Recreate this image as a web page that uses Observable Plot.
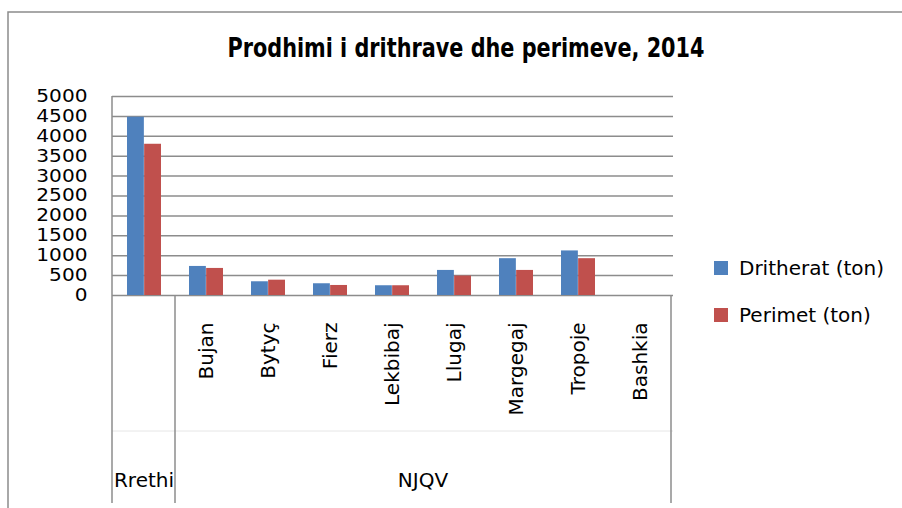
<!DOCTYPE html>
<html>
<head>
<meta charset="utf-8">
<script src="https://cdn.jsdelivr.net/npm/d3@7"></script>
<script src="https://cdn.jsdelivr.net/npm/@observablehq/plot@0.6"></script>
<style>
  html, body { margin: 0; padding: 0; background: #fff; }
  #chart { width: 902px; height: 508px; }
</style>
</head>
<body>
<div id="chart"></div>
<script>
// ---- data ----
const title = "Prodhimi i drithrave dhe perimeve, 2014";
const categories = ["Rrethi", "Bujan", "Bytyç", "Fierz", "Lekbibaj", "Llugaj", "Margegaj", "Tropoje", "Bashkia"];
const tickLabels = ["", "Bujan", "Bytyç", "Fierz", "Lekbibaj", "Llugaj", "Margegaj", "Tropoje", "Bashkia"];
const groups = ["Rrethi", "NJQV", "NJQV", "NJQV", "NJQV", "NJQV", "NJQV", "NJQV", "NJQV"];
const dritherat = [4480, 730, 345, 295, 245, 630, 925, 1120, 0];
const perimet = [3800, 680, 385, 252, 245, 490, 630, 925, 0];
const seriesNames = ["Dritherat (ton)", "Perimet (ton)"];
const seriesColors = ["#4F81BD", "#C0504D"];
const yTicks = [0, 500, 1000, 1500, 2000, 2500, 3000, 3500, 4000, 4500, 5000];

// ---- layout ----
const W = 902, H = 508;
const mL = 112, mR = 229, mT = 96, mB = 213;
const padIn = 0.45, padOut = 0.225;
const plotW = W - mL - mR;
const step = plotW / (categories.length - padIn + 2 * padOut);
const half = step * (1 - padIn) / 2;
const gridColor = "#8c8c8c";
const font = "'DejaVu Sans', 'Open Sans', sans-serif";

const table = categories.map((c, i) => ({category: c, dritherat: dritherat[i], perimet: perimet[i], group: groups[i]}));

const plot = Plot.plot({
  width: W, height: H,
  marginLeft: mL, marginRight: mR, marginTop: mT, marginBottom: mB,
  style: {fontFamily: font, fontSize: "20px", color: "#000", background: "#fff", overflow: "visible"},
  x: {type: "band", domain: categories, paddingInner: padIn, paddingOuter: padOut, label: null},
  y: {domain: [0, 5000], label: null},
  marks: [
    Plot.ruleY(yTicks, {stroke: gridColor, strokeWidth: 1.5}),
    Plot.barY(table, {x: "category", y: "dritherat", fill: seriesColors[0], insetRight: half}),
    Plot.barY(table, {x: "category", y: "perimet", fill: seriesColors[1], insetLeft: half}),
    Plot.axisY({ticks: yTicks, tickSize: 0, tickPadding: 25, fontSize: 17, tickFormat: d => String(d), label: null}),
    Plot.axisX({tickSize: 0, tickRotate: -90, tickPadding: 27, fontSize: 20,
      tickFormat: d => tickLabels[categories.indexOf(d)], label: null})
  ]
});

document.getElementById("chart").appendChild(plot);

// ---- decorations (Excel-style frame, category boxes, title, legend) ----
const svg = d3.select(plot);
const xs = plot.scale("x");
const frameLeft = mL, frameRight = W - mR, frameTop = mT, frameBase = H - mB, boxBottom = 503;
const gap = xs.step - xs.bandwidth;

// widen y tick labels to match the reference's wide digits
svg.selectAll('g[aria-label="y-axis tick label"] text').each(function() {
  const n = this.textContent.length;
  d3.select(this).attr("textLength", n * 12.8).attr("lengthAdjust", "spacingAndGlyphs");
});

const g = svg.append("g");

// outer chart border
g.append("path").attr("d", `M8,${H} V12 H${W}`).attr("fill", "none")
  .attr("stroke", gridColor).attr("stroke-width", 1.5);

// faint separator between label levels
g.append("line").attr("x1", frameLeft).attr("x2", frameRight).attr("y1", 431).attr("y2", 431)
  .attr("stroke", "#e6e6e6").attr("stroke-width", 1);

// y-axis line extending into category area
g.append("line").attr("x1", frameLeft).attr("x2", frameLeft).attr("y1", frameTop).attr("y2", boxBottom)
  .attr("stroke", gridColor).attr("stroke-width", 1.5);

// group spans
const groupNames = Array.from(new Set(groups));
groupNames.forEach((name) => {
  const members = categories.filter((c, i) => groups[i] === name);
  const x0 = xs.apply(members[0]) - gap / 2;
  const x1 = xs.apply(members[members.length - 1]) + xs.bandwidth + gap / 2;
  g.append("line").attr("x1", x1).attr("x2", x1).attr("y1", frameBase).attr("y2", boxBottom)
    .attr("stroke", gridColor).attr("stroke-width", 1.5);
  g.append("text").attr("x", (x0 + x1) / 2).attr("y", 487)
    .attr("text-anchor", "middle").attr("font-family", font).attr("font-size", 20)
    .attr("fill", "#000").text(name);
});

// title
g.append("text").attr("x", 466).attr("y", 57).attr("text-anchor", "middle")
  .attr("font-family", "'Liberation Sans Narrow', 'DejaVu Sans Condensed', 'Open Sans', sans-serif")
  .attr("font-weight", "bold").attr("font-size", 26)
  .attr("textLength", 477).attr("lengthAdjust", "spacingAndGlyphs")
  .attr("fill", "#000").text(title);

// legend
const legendY = [261, 308];
seriesNames.forEach((s, i) => {
  g.append("rect").attr("x", 714).attr("y", legendY[i]).attr("width", 14).attr("height", 14)
    .attr("fill", seriesColors[i]);
  g.append("text").attr("x", 739).attr("y", legendY[i] + 7).attr("dy", "0.35em")
    .attr("text-anchor", "start")
    .attr("font-family", font).attr("font-size", 20).attr("fill", "#000").text(s);
});
</script>
</body>
</html>
